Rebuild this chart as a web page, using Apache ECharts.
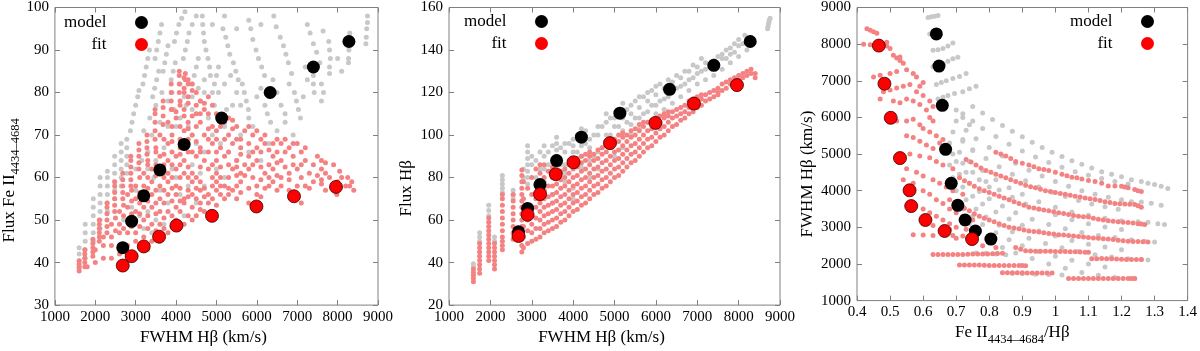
<!DOCTYPE html>
<html>
<head>
<meta charset="utf-8">
<script src="https://cdn.jsdelivr.net/npm/echarts@6/dist/echarts.min.js"></script>
<style>
html, body { margin: 0; padding: 0; background: #fff; }
#chart { width: 1200px; height: 351px; }
</style>
</head>
<body>
<div id="chart"></div>
<script>
// model / fit points (same objects in the three panels)
var modelFwhm = [2680, 2900, 3200, 3600, 4200, 5130, 6330, 7400, 8280];
var modelFe = [43.5, 49.7, 55.7, 61.8, 67.8, 74.0, 80.0, 86.0, 92.0];
var modelHb = [54.5, 65.5, 76.7, 88.0, 99.0, 110.3, 121.5, 132.8, 144.0];
var modelRatio = [0.805, 0.758, 0.727, 0.705, 0.685, 0.668, 0.658, 0.648, 0.640];
var fitFwhm = [2680, 2900, 3200, 3580, 4010, 4890, 5990, 6920, 7960];
var fitFe = [39.3, 41.5, 43.8, 46.1, 48.7, 51.0, 53.2, 55.6, 57.8];
var fitHb = [52.5, 62.5, 72.2, 81.6, 87.2, 96.2, 105.7, 114.8, 123.5];
var fitRatio = [0.748, 0.665, 0.607, 0.564, 0.559, 0.530, 0.502, 0.483, 0.466];

// panel 1 : FWHM vs Fe II flux, grey = model grid, pink = fit grid
var p1Gray = [
[1600,39],[1600,40.5],[1600,42],[1600,43.5],
[1750,41],[1750,43],[1750,45],[1750,47],[1750,49],
[1950,45],[1950,47],[1950,49],[1950,51],[1950,53],[1950,55],
[2120,48],[2120,50],[2120,52],[2120,54],[2120,56],[2120,58],[2120,60],
[2300,52],[2300,54],[2300,56],[2300,58],[2300,60],[2300,61.5],
[2480,55],[2480,57],[2480,59],[2480,61],[2480,63],[2480,65],
[2640,58],[2640,60],[2640,62],[2640,64],[2640,66],[2640,68],
[2780,61],[2780,63],[2780,65],[2780,67],[2780,69],
[2870,71],[2910,73],[2950,75],[3000,77],[3050,79],[3080,80.5],
[3180,82],[3220,84],[3260,86],[3300,88],[3340,90],
[3480,88],[3520,90],[3560,92],[3600,94],[3640,96],
[3420,79],[3470,81],[3520,83],[3570,85],
[3680,85],[3720,87],[3760,89],[3800,91],
[3960,92],[4010,94],[4070,96],[4140,97.5],[4220,99],
[3880,83],[3930,85],[3980,87],
[4180,88],[4230,90],[4280,92],[4320,94],
[4650,98],[4660,96],[4680,94],[4700,92],[4740,90],[4790,88],[4830,86],
[4400,82],[4450,84],[4500,86],[4550,88],
[4900,80],[4950,82],[5000,84],[5050,86],
[5200,98],[5160,95],[5230,93],[5280,91],[5330,89],[5420,87],[5480,85],[5540,83],
[5640,82],[5690,80],[5740,78],[5790,76],
[5800,97],[5850,95],[5900,92.5],[5980,90],[6040,88],[6120,86],[6190,84],
[6200,77],[6260,75],[6310,79],[6340,73],
[6420,98],[6480,95.5],[6580,93],[6660,91],[6720,89],[6780,87],[6860,84.5],
[6930,80],[6980,78],[7030,76],[7080,74],
[7250,96],[7320,94],[7400,91.5],[7480,89.5],[7560,87],
[7400,84],[7400,82],[7420,80],
[7640,94.5],[7780,92],[7800,90],[7820,88],[7800,86],[7800,84.5],
[8300,94],[8280,90],[8270,88],[8270,87],
[8740,98],[8740,96.5],[8720,95],[8710,93],[8700,91.5],
[3100,51],[3300,52],[3500,50],[3700,49],[3400,47],[3200,48],[3800,54],[4100,56],
[4300,58],[4000,60],[3900,62],[4400,63],[4600,61],[4700,66],[4500,68],[4900,70],
[5100,68],[5300,66],[5500,64],[5600,70],[5900,72],[5800,66],[6100,64],[6300,68],
[6500,71],[6700,73],[6900,70],[5200,72],[4800,74],[4400,76],[4600,78],[4200,79],
[3900,80],[4100,82],[3600,73],[3400,70],[3300,66],[3500,64],[3700,67],[3800,72],
[4300,72],[4700,58],[5000,62],[5200,60],[4500,54],[4200,51],[3600,57],[3000,57],
[2900,53],[2700,50],[3600,45],[3300,43],[4000,72],[4400,70],
[3000,62],[3150,64],[3300,62],[3450,60],[3700,61],[3200,71],[3350,74],[3500,77],
[3650,80],[3800,78],[3950,76],[4100,74],[4250,77],[4400,79],[4550,81],[4700,83],
[4850,84],[5050,80],[5200,82],[5350,84],[5500,80],[5600,77],[5400,77],[5250,76],
[4950,77],[4700,80],[5800,74],[6000,79],[6100,81],[6400,83],[6500,80],[6600,77],
[6700,75],[6800,82],[7200,86],[7250,83],[7150,79],[7600,82],[7650,80],[7600,78],
[8000,88],[8100,85],[6100,96],[5500,95],[4900,96],[4400,96],[4500,98]
];
var p1Pink = [
[1600,38],[1600,38.8],[1600,39.6],[1600,40.4],
[1740,39],[1740,40],[1740,41],[1740,42],[1740,43],
[1940,41.5],[1940,42.5],[1940,43.5],[1940,44.5],[1940,45.5],
[2100,45],[2100,46],[2100,47],[2100,48],[2100,49],[2100,50],
[2290,47],[2290,48.5],[2290,50],[2290,51.5],[2290,53],[2290,54],
[2480,52],[2480,53.5],[2480,55],[2480,56.5],[2480,58],[2480,59],
[2680,55],[2680,56.5],[2680,58],[2680,59.5],[2680,61],
[2880,58],[2880,59.5],[2880,61],[2880,62.5],[2880,64],[2880,65],
[3080,62],[3080,63.5],[3080,65],[3080,66.5],[3080,68],
[3280,65.5],[3280,67],[3280,68.5],[3280,70],
[3480,69],[3480,71],[3480,73],[3480,75],[3480,76],
[3680,72.5],[3680,74.5],[3680,76.5],[3680,78],
[3880,76],[3880,78],[3880,80],[3880,82],
[4080,80],[4080,82],[4080,84],[4080,85],
[4230,83],[4230,84.5],[4300,83],
[1800,39],[2000,40],[2200,41],[2400,41],[2600,42],
[2000,43],[2200,44],[2400,44],[2800,44],[3000,45],[3400,45],
[2200,46],[2400,46],[2600,47],[2800,47],[3000,47],[3200,46],[3600,46],[3800,47],[4200,49],
[2400,49],[2600,49],[2800,50],[3000,50],[3200,50],[3400,49],[3600,49],[4000,50],[4300,51],[4500,51],[4700,52],
[2600,52],[2800,53],[3000,52],[3200,53],[3400,53],[3600,52],[3800,52],[4000,53],[4200,54],[4400,53],[4600,54],[4800,54],[5200,55],[5800,54],
[2800,56],[3000,55],[3400,56],[3600,55],[3800,56],[4000,56],[4200,55],[4400,56],[4600,57],[4800,56],[5000,57],[5400,57],[6000,56],[6300,58],[7100,54],[7700,57],
[3000,58],[3200,58],[3400,59],[3600,58],[3800,59],[4000,58],[4400,59],[4600,59],[5000,59],[5200,58],[5600,59],[6000,58],[6400,59],[6600,60],[7000,58],[7400,59],[7800,60],[8000,59],[8200,58],[8300,58],[8400,57],[7980,56],
[3200,61],[3400,62],[3800,61],[4000,62],[4200,61],[4400,61],[4800,62],[5000,61],[5400,62],[5600,61],[5800,62],[6200,61],[6400,62],[6800,61],[7000,62],[7300,61],[7600,62],[7900,63],[8250,60],[8350,59],
[3300,64],[3600,65],[3800,64],[4000,65],[4200,64],[4500,65],[4700,64],[5000,64],[5200,65],[5500,64],[5800,65],[6000,64],[6400,65],[6600,64],[6900,65],[7200,64],[7500,65],[7600,64],
[3500,67],[3800,68],[4100,67],[4400,66],[4600,67],[4900,68],[5100,67],[5400,68],[5600,67],[6000,67],[6200,68],[6500,66],[6800,67],[7000,68],[7200,67],
[3600,70],[3900,70],[4200,71],[4400,70],[4700,70],[5000,71],[5300,70],[5600,69],[5900,70],[6200,70],[6500,69],[6700,69],
[3800,73],[4000,74],[4300,73],[4600,73],[4900,72],[5200,73],[5500,72],[5800,72],
[3900,76],[4200,76],[4500,75],[4700,76],[5000,75],[5300,74],
[4100,78],[4300,79],[4600,78],[4800,79],
[4200,81],[4400,82],[4500,80],
[2500,47.5],[2700,48],[2900,48.5],[3100,48.5],[3300,48],[3500,47.5],[3700,48],[3900,48.5],[4100,49],[4400,50],
[2500,50.5],[2700,51],[2900,51.5],[3100,51.5],[3300,51],[3500,51.5],[3700,50.5],[3900,51],[4100,52],[4600,52.5],[5000,53.5],[5500,55],[6100,55.5],
[2700,53.5],[2900,54.5],[3100,54],[3300,54.5],[3500,54],[3700,54],[3900,54.5],[4100,54.5],[4300,55.5],[4500,55],[4700,55.5],[4900,55],[5100,56],[5300,56],[5600,56.5],[6500,57],[6800,57],[7300,57.5],[7600,58.5],[8100,60],
[2900,57],[3100,56.5],[3300,57.5],[3500,57],[3700,57],[3900,57.5],[4100,57.5],[4300,57],[4500,57.5],[4700,57.5],[4900,58],[5100,58],[5300,57.5],[5500,58],[5800,57.5],[6200,57.5],[6600,58],[7200,58],[7600,59.5],
[3100,60],[3300,60],[3500,60.5],[3700,60],[3900,60],[4100,60],[4300,60],[4500,60],[4900,60],[5100,60],[5300,60],[5500,60.5],[5700,60.5],[5900,60],[6100,59.5],[6300,60],[6500,60.5],[6800,59.5],[7100,60],[7500,60.5],[7700,61],[8050,61.5],
[3300,63],[3500,63],[3700,63],[3900,63],[4100,63],[4300,62.5],[4600,62.5],[4900,63],[5100,62.5],[5300,63],[5500,62.5],[5700,63],[5900,63],[6100,62.5],[6300,63],[6500,63.5],[6700,62.5],[6900,63],[7100,63],[7400,63],[7700,63.5],
[3500,66],[3700,65.5],[3900,66],[4100,65.5],[4300,66],[4600,66],[4800,66],[5000,66],[5300,66],[5600,65.5],[5900,66],[6100,66],[6300,66.5],[6700,66],[7100,66],
[3700,69],[3900,68.5],[4100,69],[4300,69],[4500,68.5],[4800,69],[5000,69],[5200,69],[5500,69],[5800,68],[6100,69],[6400,68],[6600,68],[6900,68],
[3900,72],[4100,72],[4300,71.5],[4500,72],[4800,71.5],[5100,72],[5400,71.5],[5700,71],[6000,71],
[4000,75.5],[4200,74.5],[4400,74.5],[4600,75],[4800,75],[5100,74],[5400,73.5],
[4100,77],[4300,77.5],[4500,77],[4700,77.5],[4900,77],
[4200,80],[4400,80.5],[4300,82],[4200,83.5]
];

// panel 2 : FWHM vs H beta flux
var p2Gray = [
[1590,38],[1590,39.5],
[1740,50],[1740,52],[1740,54],
[1960,62],[1960,64.5],[1960,67],
[2100,50],[2100,52],
[2290,73],[2290,75],[2290,77],[2290,79],[2290,81],
[2550,70],[2550,72],[2550,74],
[2900,80],[2900,83],[2900,86],[2900,89],[2900,92],[2900,95],
[3100,72],[3100,76],[3100,80],
[3300,74],[3300,78],[3300,84],[3300,90],
[3500,68],[3500,72],
[3600,90],[3600,93],[3600,96],[3600,99],
[3800,78],[3800,82],[3800,86],[3800,92],[3800,96],
[4000,70],[4000,75],[4000,92],[4000,95],[4000,98],
[4200,85],[4200,90],[4200,95],[4200,100],[4200,103],
[4400,80],[4400,88],[4400,94],[4400,98],
[4600,84],[4600,92],[4600,100],[4600,104],
[4800,95],[4800,100],[4800,106],[4800,110],
[5000,90],[5000,98],[5000,104],[5000,108],
[5200,94],[5200,102],[5200,108],[5200,112],[5200,115],
[5400,100],[5400,105],[5400,110],[5400,114],
[5600,103],[5600,108],[5600,113],[5600,118],
[5800,106],[5800,111],[5800,116],[5800,120],
[6000,110],[6000,114],[6000,119],[6000,123],
[6200,112],[6200,117],[6200,122],
[6400,115],[6400,120],[6400,125],
[6600,118],[6600,123],[6600,127],
[6800,121],[6800,126],[6800,130],
[7000,124],[7000,129],[7000,132],
[7200,126],[7200,131],[7200,134],
[7400,128],[7400,135],
[7600,131],[7600,136],[7600,138],
[7800,134],[7800,138],[7800,141],
[8000,137],[8000,142],[8000,145],
[8200,140],[8200,145],[8300,146],
[8700,150],[8710,151],[8720,152],[8730,153],[8740,154],[8760,155],
[2800,80],[2800,84],[2900,77],[3000,86],[3000,90],[3100,88],[3200,84],[3200,92],
[3300,95],[3400,86],[3400,92],[3500,84],[3500,95],[3700,86],[3700,94],[3900,88],
[3900,96],[4100,92],[4100,100],[4300,96],[4300,102],[4500,90],[4500,100],[4700,94],
[4700,104],[4900,100],[4900,108],[5100,104],[5100,110],[5300,106],[5300,112],[5500,108],
[5500,116],[5700,110],[5700,118],[5900,114],[5900,121],[6100,116],[6100,124],[6300,118],
[6300,126],[6500,122],[6500,128],[6700,124],[6700,130],[6900,127],[6900,133],[7100,130],
[7100,136],[7300,132],[7500,133],[7500,137],[7700,136],[7700,140],[7900,139],[7900,143],
[8100,143],[8150,147]
];
var p2Pink = [
[1590,31],[1590,32.5],[1590,34],[1590,35.5],[1590,37],
[1740,35],[1740,37],[1740,39],[1740,41],[1740,43],[1740,45],[1740,47],[1740,49],
[1960,41],[1960,43],[1960,45],[1960,47],[1960,49],[1960,51],[1960,53],[1960,55],[1960,57],[1960,59],[1960,61],
[2100,37],[2100,39],[2100,41],[2100,43],[2100,45],[2100,47],[2100,49],
[2290,46],[2290,48],[2290,50],[2290,52],[2290,55],[2290,58],[2290,61],[2290,64],[2290,67],[2290,70],[2290,72],
[2550,51],[2550,54],[2550,57],[2550,60],[2550,63],[2550,66],[2550,69],[2550,72],
[2760,45],[2760,48],[2760,51],[2760,54],[2760,57],[2760,60],[2760,63],[2760,66],[2760,69],[2760,72],[2760,75],[2760,78],[2760,81],[2760,83.5],
[2800,47],[2800,52],[2800,57],[2800,62],[2800,70],[2800,78],
[3000,50],[3000,54],[3000,58],[3000,62],[3000,66],[3000,72],[3000,80],
[3200,52],[3200,56],[3200,60],[3200,64],[3200,68],[3200,74],[3200,82],[3200,86],
[3400,55],[3400,59],[3400,63],[3400,67],[3400,71],[3400,76],[3400,83],
[3600,57],[3600,61],[3600,65],[3600,69],[3600,73],[3600,77],[3600,80],
[3800,60],[3800,64],[3800,68],[3800,72],[3800,76],[3800,80],[3800,84],
[4000,64],[4000,68],[4000,72],[4000,76],[4000,80],[4000,84],[4000,88],
[4200,67],[4200,71],[4200,75],[4200,79],[4200,83],[4200,87],[4200,90],
[4400,70],[4400,74],[4400,78],[4400,82],[4400,86],[4400,90],[4400,92],
[4600,73],[4600,77],[4600,81],[4600,85],[4600,89],[4600,93],
[4800,76],[4800,80],[4800,84],[4800,88],[4800,92],[4800,95],
[5000,80],[5000,84],[5000,88],[5000,92],[5000,96],[5000,98],
[5200,83],[5200,87],[5200,91],[5200,95],[5200,99],[5200,101],
[5400,87],[5400,91],[5400,95],[5400,99],[5400,102],
[5600,90],[5600,94],[5600,98],[5600,102],[5600,105],
[5800,94],[5800,98],[5800,102],[5800,106],
[6000,97],[6000,101],[6000,105],[6000,108],
[6200,100],[6200,104],[6200,108],[6200,110],
[6400,104],[6400,108],[6400,111],
[6600,107],[6600,110],[6600,113],
[6800,110],[6800,113],[6800,116],
[7000,113],[7000,116],[7000,118],
[7200,116],[7200,119],
[7400,118],[7400,121],
[7500,119],[7600,121],[7600,124],
[7800,124],[7800,126],
[8000,126],[8000,128],
[8200,128],[8200,130],
[8400,127],[8400,129],
[2900,49],[2900,55],[2900,60],[2900,65],[2900,75],
[3100,51],[3100,56],[3100,61],[3100,66],[3100,70],[3100,77],[3100,84],
[3300,54],[3300,58],[3300,62],[3300,66],[3300,70],[3300,74],[3300,80],[3300,86],
[3500,56],[3500,60],[3500,64],[3500,68],[3500,72],[3500,76],[3500,80],[3500,85],
[3700,59],[3700,63],[3700,67],[3700,71],[3700,75],[3700,79],[3700,83],
[3900,62],[3900,66],[3900,70],[3900,74],[3900,78],[3900,82],[3900,86],
[4100,65],[4100,69],[4100,73],[4100,77],[4100,81],[4100,85],[4100,89],
[4300,68],[4300,72],[4300,76],[4300,80],[4300,84],[4300,88],[4300,91],
[4500,72],[4500,76],[4500,80],[4500,84],[4500,88],[4500,91],
[4700,75],[4700,79],[4700,83],[4700,87],[4700,91],[4700,94],
[4900,78],[4900,82],[4900,86],[4900,90],[4900,94],[4900,97],
[5100,81],[5100,85],[5100,89],[5100,93],[5100,97],[5100,100],
[5300,85],[5300,89],[5300,93],[5300,97],[5300,100],
[5500,88],[5500,92],[5500,96],[5500,100],[5500,103],
[5700,92],[5700,96],[5700,100],[5700,104],[5700,106],
[5900,95],[5900,99],[5900,103],[5900,107],
[6100,99],[6100,103],[6100,106],[6100,109],
[6300,102],[6300,106],[6300,109],[6300,111],
[6500,105],[6500,109],[6500,112],
[6700,108],[6700,111],[6700,114],
[6900,111],[6900,114],[6900,117],
[7100,114],[7100,117],[7100,119],
[7300,117],[7300,120],
[7500,120],[7500,122],
[7700,122],[7700,125],
[7900,125],[7900,127],
[8100,127],[8100,129],
[8300,129],[8300,131]
];

// panel 3 : Fe II / H beta ratio vs FWHM
var p3Gray = [
[0.615,8730],[0.625,8750],[0.635,8760],[0.645,8780],
[0.62,8280],[0.63,8300],
[0.63,7830],[0.645,7850],[0.66,7880],[0.675,7950],[0.69,8030],
[0.63,7380],[0.645,7420],[0.66,7470],[0.675,7530],[0.69,7600],[0.705,7640],
[0.64,6900],[0.655,6950],[0.67,7000],[0.69,7060],[0.71,7120],[0.73,7200],
[0.645,6500],[0.66,6550],[0.675,6600],[0.695,6650],[0.72,6700],[0.74,6780],[0.76,6850],
[0.75,6300],[0.78,6120],[0.81,5940],[0.84,5780],[0.87,5620],[0.9,5470],[0.93,5320],
[0.96,5180],[0.99,5050],[1.02,4930],[1.05,4820],[1.08,4720],[1.11,4620],[1.14,4520],
[1.17,4450],[1.2,4380],[1.23,4300],[1.26,4250],[1.28,4200],[1.3,4170],[1.32,4120],[1.34,4060],
[0.7,5900],[0.73,5650],[0.76,5420],[0.8,5180],[0.84,4950],[0.88,4750],[0.92,4560],
[0.96,4400],[1.0,4250],[1.04,4120],[1.08,4000],[1.12,3900],[1.16,3820],[1.2,3750],
[1.23,3700],[1.26,3690],[1.29,3660],[1.32,3600],
[0.68,5300],[0.71,5050],[0.74,4800],[0.78,4550],[0.82,4300],[0.86,4080],[0.9,3900],
[0.95,3700],[1.0,3550],[1.05,3420],[1.1,3330],[1.15,3250],[1.2,3180],[1.25,3150],
[1.28,3140],[1.31,3100],[1.33,3080],
[0.68,4700],[0.71,4450],[0.74,4200],[0.77,3980],[0.8,3780],[0.84,3580],[0.88,3400],
[0.93,3220],[0.98,3080],[1.03,2960],[1.08,2860],[1.13,2780],[1.18,2720],[1.23,2660],
[1.27,2620],[1.3,2600],
[0.7,4000],[0.73,3750],[0.76,3500],[0.79,3280],[0.83,3060],[0.87,2880],[0.92,2700],
[0.97,2560],[1.02,2440],[1.07,2340],[1.12,2250],[1.17,2190],[1.22,2140],[1.26,2120],[1.28,2110],
[0.74,3100],[0.77,2880],[0.8,2650],[0.84,2450],[0.88,2300],[0.93,2150],[0.98,2000],
[1.03,1880],[1.08,1770],[1.13,1690],[1.18,1630],[1.24,1600],
[0.76,2300],[0.79,2290],[0.82,2270],[0.85,2250],
[0.87,1740],[0.9,1730],[0.94,1720],[0.98,1710],[1.02,1700],
[0.7,6200],[0.72,6000],[0.74,5800],[0.72,5400],[0.75,5100],[0.7,4800],[0.73,4500],
[0.77,4300],[0.8,4100],[0.72,3500],[0.75,3300],
[0.72,6100],[0.75,5900],[0.78,5700],[0.82,5480],[0.86,5270],[0.9,5080],[0.94,4920],
[0.98,4770],[1.02,4640],[1.06,4520],[1.1,4420],[1.14,4330],[1.18,4250],[1.22,4180],
[0.69,5600],[0.72,5350],[0.75,5120],[0.79,4880],[0.83,4650],[0.87,4450],[0.91,4270],
[0.95,4100],[0.99,3960],[1.03,3840],[1.07,3730],[1.11,3640],[1.15,3560],[1.19,3490],
[0.69,5000],[0.72,4750],[0.75,4500],[0.79,4250],[0.83,4020],[0.87,3820],[0.91,3640],
[0.95,3490],[1.0,3340],[1.05,3210],[1.1,3100],[1.15,3010],[1.2,2940],
[0.69,4350],[0.72,4100],[0.75,3850],[0.78,3640],[0.82,3420],[0.86,3230],[0.9,3060],
[0.95,2900],[1.0,2760],[1.05,2640],[1.1,2540],[1.15,2460],[1.2,2390],
[0.72,3550],[0.75,3300],[0.78,3080],[0.82,2850],[0.86,2660],[0.9,2500],[0.95,2340],
[1.0,2210],[1.05,2100],[1.1,2000],[1.15,1920]
];
var p3Pink = [
[0.43,8420],[0.44,8380],[0.45,8340],[0.46,8300],
[0.42,8000],[0.44,7980],[0.48,8000],[0.49,7950],[0.5,7880],[0.49,8050],
[0.51,7700],[0.52,7620],[0.53,7550],[0.54,7480],[0.53,7650],
[0.45,7100],[0.47,7150],[0.5,7200],[0.52,7250],[0.55,7300],[0.57,7200],[0.58,7100],[0.6,6950],[0.59,6850],
[0.48,6700],[0.5,6750],[0.52,6800],[0.54,6850],[0.56,6900],[0.58,6700],[0.6,6600],[0.62,6450],[0.63,6300],
[0.47,6500],[0.51,6450],[0.53,6400],[0.55,6500],[0.57,6450],[0.59,6350],[0.61,6200],[0.62,6000],[0.63,5900],
[0.52,5900],[0.55,5900],[0.57,5950],[0.59,5800],[0.6,5700],[0.62,5600],[0.64,5500],[0.66,5400],
[0.55,5500],[0.57,5450],[0.59,5350],[0.61,5250],[0.63,5150],[0.65,5300],[0.67,5200],
[0.53,5000],[0.56,5000],[0.59,4950],[0.62,4900],[0.64,4800],[0.66,4700],[0.69,4600],
[0.55,4600],[0.58,4500],[0.6,4400],[0.63,4300],[0.65,4200],[0.67,4100],[0.69,4000],[0.72,3900],
[0.54,4300],[0.57,4200],[0.6,4000],[0.62,3900],[0.64,3750],[0.66,3650],[0.68,3500],[0.7,3400],[0.72,3300],[0.75,3200],
[0.57,3600],[0.6,3500],[0.62,3400],[0.64,3300],[0.66,3200],[0.68,3100],[0.7,3000],[0.73,2950],[0.76,2900],
[0.6,3100],[0.63,3050],[0.66,3000],[0.68,2950],
[0.57,2800],[0.6,2790],[0.63,2780],[0.69,2780],[0.72,2760],
[0.7,2700],[0.74,2600],[0.78,2500],[0.82,2450],
[0.82,5050],[0.85,4950],[0.88,4800],[0.92,4700],[0.95,4600],[0.98,4550],[1.02,4450],
[1.05,4370],[1.08,4320],[1.12,4250],[1.16,4130],[1.2,4120],[1.22,4080],[1.24,4030],[1.26,3980],
[0.73,4850],[0.76,4700],[0.79,4550],[0.82,4450],[0.85,4350],[0.88,4250],[0.91,4150],
[0.94,4080],[0.97,4000],[1.0,3950],[1.03,3900],[1.06,3850],[1.09,3800],[1.12,3760],
[1.15,3700],[1.18,3650],[1.21,3640],[1.24,3620],[1.26,3550],
[0.71,4350],[0.74,4200],[0.77,4050],[0.8,3950],[0.83,3850],[0.86,3750],[0.89,3650],
[0.92,3550],[0.95,3500],[0.98,3450],[1.01,3400],[1.04,3350],[1.07,3300],[1.1,3280],
[1.13,3220],[1.16,3180],[1.19,3150],[1.22,3130],[1.25,3100],[1.27,3080],
[0.68,3750],[0.71,3600],[0.74,3450],[0.77,3300],[0.8,3200],[0.83,3100],[0.86,3000],
[0.89,2960],[0.92,2900],[0.95,2870],[0.98,2830],[1.01,2800],[1.04,2780],[1.07,2750],
[1.1,2720],[1.13,2700],[1.16,2680],[1.19,2650],[1.22,2620],[1.25,2610],[1.28,2600],
[0.88,2450],[0.91,2360],[0.94,2350],[0.97,2350],[1.0,2340],[1.03,2340],[1.06,2330],[1.09,2320],
[1.11,2140],[1.14,2150],[1.17,2140],[1.2,2130],[1.23,2120],[1.26,2120],
[0.63,2260],[0.66,2260],[0.69,2260],[0.72,2260],[0.75,2270],[0.78,2270],[0.81,2280],[0.84,2290],
[0.71,1970],[0.74,1970],[0.77,1970],[0.8,1960],[0.83,1960],[0.86,1960],[0.89,1960],[0.91,1950],
[0.84,1760],[0.87,1760],[0.9,1760],[0.93,1750],[0.96,1750],[0.99,1750],
[1.04,1600],[1.07,1600],[1.1,1600],[1.13,1600],[1.16,1600],[1.19,1600],[1.22,1600],[1.24,1600],
[0.835,5000],[0.865,4880],[0.9,4750],[0.935,4650],[0.965,4580],[1.0,4500],[1.035,4410],
[1.065,4350],[1.1,4280],[1.14,4200],[1.18,4125],[1.21,4100],[1.25,4000],
[0.745,4780],[0.775,4620],[0.805,4500],[0.835,4400],[0.865,4300],[0.895,4200],[0.925,4110],
[0.955,4040],[0.985,3975],[1.015,3925],[1.045,3875],[1.075,3825],[1.105,3780],[1.135,3730],
[1.165,3675],[1.195,3645],[1.225,3630],[1.25,3590],
[0.725,4270],[0.755,4120],[0.785,4000],[0.815,3900],[0.845,3800],[0.875,3700],[0.905,3600],
[0.935,3525],[0.965,3475],[0.995,3425],[1.025,3375],[1.055,3325],[1.085,3290],[1.115,3250],
[1.145,3200],[1.175,3165],[1.205,3140],[1.235,3115],[1.26,3090],
[0.695,3680],[0.725,3520],[0.755,3370],[0.785,3250],[0.815,3150],[0.845,3050],[0.875,2980],
[0.905,2930],[0.935,2885],[0.965,2850],[0.995,2815],[1.025,2790],[1.055,2765],[1.085,2735],
[1.115,2710],[1.145,2690],[1.175,2665],[1.205,2635],[1.235,2615],[1.265,2605],
[0.895,2400],[0.925,2355],[0.955,2350],[0.985,2345],[1.015,2340],[1.045,2335],[1.075,2325],[1.1,2320],
[1.125,2145],[1.155,2145],[1.185,2135],[1.215,2125],[1.245,2120],
[0.645,2260],[0.675,2260],[0.705,2260],[0.735,2265],[0.765,2270],[0.795,2275],[0.825,2285],
[0.725,1970],[0.755,1970],[0.785,1965],[0.815,1960],[0.845,1960],[0.875,1960],[0.9,1955],
[0.855,1760],[0.885,1760],[0.915,1755],[0.945,1750],[0.975,1750],
[1.055,1600],[1.085,1600],[1.115,1600],[1.145,1600],[1.175,1600],[1.205,1600],[1.23,1600]
];

var FONT = 'Liberation Serif';
var FRAME = '#808080';
var GREY = '#c8c8c8';
var PINK = '#f58282';

function zip(a, b) {
	var out = [];
	for (var i = 0; i < a.length; i++) {
		out.push([a[i], b[i]]);
	}
	return out;
}

// no thousands separator, like the original tick labels
function plainNumber(v) {
	return String(Math.round(v * 1000) / 1000);
}

var richName = {
	a: { fontFamily: FONT, fontSize: 17, color: '#000' },
	s: { fontFamily: FONT, fontSize: 12.5, color: '#000', padding: [13, 0, 0, 0] }
};

function axis(g, pos, min, max, step, name, gap, pad, labelMargin) {
	var mirror = (pos === 'top' || pos === 'right');
	return {
		type: 'value',
		gridIndex: g,
		position: pos,
		min: min,
		max: max,
		interval: step,
		axisLine: { show: false },
		splitLine: { show: false },
		axisTick: { inside: true, length: 5, lineStyle: { color: FRAME, width: 1 } },
		axisLabel: {
			show: !mirror,
			margin: labelMargin,
			color: '#000',
			fontFamily: FONT,
			fontSize: 15,
			formatter: plainNumber
		},
		name: mirror ? '' : name,
		nameLocation: 'middle',
		nameGap: gap,
		nameTextStyle: {
			fontFamily: FONT,
			fontSize: 17,
			color: '#000',
			padding: pad,
			rich: richName
		}
	};
}

function panelSeries(g, grey, pink, model, fit) {
	return [{
		name: 'model grid', type: 'scatter', xAxisIndex: g * 2, yAxisIndex: g * 2,
		data: grey, symbolSize: 5, itemStyle: { color: GREY, opacity: 1 }, silent: true
	}, {
		name: 'fit grid', type: 'scatter', xAxisIndex: g * 2, yAxisIndex: g * 2,
		data: pink, symbolSize: 5, itemStyle: { color: PINK, opacity: 1 }, silent: true
	}, {
		name: 'model', type: 'scatter', xAxisIndex: g * 2, yAxisIndex: g * 2,
		data: model, symbolSize: 13, itemStyle: { color: '#000', opacity: 1 }, z: 3
	}, {
		name: 'fit', type: 'scatter', xAxisIndex: g * 2, yAxisIndex: g * 2,
		data: fit, symbolSize: 13,
		itemStyle: { color: '#ff0000', borderColor: '#3a0000', borderWidth: 0.8, opacity: 1 }, z: 4
	}];
}

function legendAt(left, top) {
	return {
		data: [{ name: 'model' }, { name: 'fit', itemStyle: { borderWidth: 0 } }],
		orient: 'vertical',
		align: 'right',
		left: left,
		top: top,
		padding: 0,
		itemWidth: 60,
		itemHeight: 13,
		itemGap: 5,
		icon: 'circle',
		selectedMode: false,
		textStyle: { fontFamily: FONT, fontSize: 17, color: '#000', lineHeight: 13 }
	};
}

var myChart = echarts.init(document.getElementById('chart'));
var gridBox = { show: true, borderColor: FRAME, borderWidth: 1, top: 7, height: 308 };

var option = {
	animation: false,
	backgroundColor: '#fff',
	textStyle: { fontFamily: FONT, color: '#000' },
	grid: [
		Object.assign({ left: 49, width: 329 }, gridBox),
		Object.assign({ left: 449, width: 331 }, gridBox),
		Object.assign({ left: 857, width: 331 }, gridBox)
	],
	xAxis: [
		axis(0, 'bottom', 1000, 9000, 1000, 'FWHM Hβ (km/s)', 16, [0, 26, 0, 0], 4),
		axis(0, 'top', 1000, 9000, 1000, '', 0, 0, 0),
		axis(1, 'bottom', 1000, 9000, 1000, 'FWHM Hβ (km/s)', 16, [0, 26, 0, 0], 4),
		axis(1, 'top', 1000, 9000, 1000, '', 0, 0, 0),
		axis(2, 'bottom', 0.4, 1.4, 0.1, '{a|Fe II}{s|4434–4684}{a|/Hβ}', 12, [0, 20, 0, 0], 4),
		axis(2, 'top', 0.4, 1.4, 0.1, '', 0, 0, 0)
	],
	yAxis: [
		axis(0, 'left', 30, 100, 10, '{a|Flux Fe II}{s|4434–4684}', 30, [0, 48, 0, 0], 6),
		axis(0, 'right', 30, 100, 10, '', 0, 0, 0),
		axis(1, 'left', 20, 160, 20, 'Flux Hβ', 34, [0, 64, 0, 0], 6),
		axis(1, 'right', 20, 160, 20, '', 0, 0, 0),
		axis(2, 'left', 1000, 9000, 1000, 'FWHM Hβ (km/s)', 41, [0, 40, 0, 0], 6),
		axis(2, 'right', 1000, 9000, 1000, '', 0, 0, 0)
	],
	legend: [legendAt(64, 14), legendAt(464, 13), legendAt(1070, 13)],
	series: [].concat(
		panelSeries(0, p1Gray, p1Pink, zip(modelFwhm, modelFe), zip(fitFwhm, fitFe)),
		panelSeries(1, p2Gray, p2Pink, zip(modelFwhm, modelHb), zip(fitFwhm, fitHb)),
		panelSeries(2, p3Gray, p3Pink, zip(modelRatio, modelFwhm), zip(fitRatio, fitFwhm))
	)
};
myChart.setOption(option);
</script>
</body>
</html>
